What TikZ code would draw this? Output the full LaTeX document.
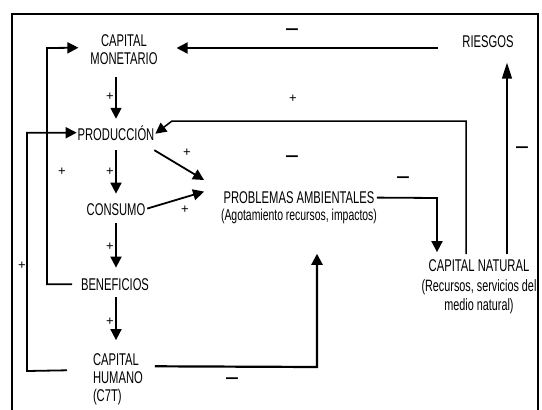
\documentclass[tikz,border=0pt]{standalone}
\usepackage{fontspec}
\setmainfont{Liberation Sans}[FakeStretch=0.66]
\newfontfamily\plainsignfont{Liberation Sans}
\usetikzlibrary{arrows.meta}
\begin{document}
\begin{tikzpicture}[x=1pt,y=-1pt,
  lbl/.style={inner sep=0pt, outer sep=0pt, font=\fontsize{17}{18}\selectfont, align=center},
  plus/.style={inner sep=0pt, font=\plainsignfont\fontsize{13}{13}\selectfont},
  minus/.style={inner sep=0pt, font=\fontsize{18}{18}\bfseries},
  ln/.style={line width=1.8pt},
  arr/.style={line width=1.8pt, -{Triangle[length=11pt,width=11pt]}},
  tall/.style={line width=1.4pt, -{Triangle[length=16pt,width=10pt]}},
  frame/.style={line width=1.3pt}]
\useasboundingbox (0,0) rectangle (542,410);
\fill[white] (0,0) rectangle (542,410);
\draw[frame] (12,415) -- (12,14) -- (538,14) -- (538,415);

% nodes
\node[lbl, anchor=north] (cm) at (124,34.6) {CAPITAL\\MONETARIO};
\node[lbl, anchor=base] (prod) at (116,140) {PRODUCCIÓN};
\node[lbl, anchor=base] (cons) at (116,215) {CONSUMO};
\node[lbl, anchor=base] (ben) at (115,290) {BENEFICIOS};
\node[lbl, anchor=north west, align=left] (ch) at (93,353.6) {CAPITAL\\HUMANO\\(C7T)};
\node[lbl, anchor=base] (ries) at (488,47) {RIESGOS};
\node[lbl, anchor=north] (prob) at (299,191.6) {PROBLEMAS AMBIENTALES\\[-1pt]{\fontsize{15.8}{17}\selectfont (Agotamiento recursos, impactos)}};
\node[lbl, anchor=north] (cn) at (479,259.6) {CAPITAL NATURAL\\[2pt]{\fontsize{16.4}{20}\selectfont (Recursos, servicios del}\\[1pt]{\fontsize{16.4}{20}\selectfont medio natural)}};

% column arrows
\draw[arr, shorten <=12pt, shorten >=6.5pt] (cm.south -| prod.north) -- (prod.north);
\draw[arr, shorten <=10pt, shorten >=9.5pt] (prod.south) -- (cons.north -| prod.south);
\draw[arr, shorten <=8pt, shorten >=10.5pt] (cons.south) -- (ben.north -| cons.south);
\draw[arr, shorten <=7pt, shorten >=13.5pt] (ben.south -| cons.south) -- (ch.north -| cons.south);

% diagonals to problemas
\draw[arr] ([yshift=-10pt]prod.south east) -- ([xshift=-17pt,yshift=11.6pt]prob.north west);
\draw[arr, shorten <=2pt] (cons.east) -- ([xshift=-17pt]prob.north west);

% left loops
\draw[arr, shorten <=9pt, shorten >=12pt] (ben.west) -- (ben.west -| 47,0) -- (47,48) -- ([yshift=2pt]cm.west);
\draw[arr, shorten >=1pt] ([xshift=-26pt,yshift=9pt]ch.west) -- (27,371) -- (prod.west -| 27,0) -- (prod.west);

% riesgos -> capital monetario
\draw[arr, shorten <=24.5pt, shorten >=19pt] (ries.west |- 0,48) -- (cm.east |- 0,48);

% problemas -> capital natural
\draw[arr, shorten >=7.5pt] ([yshift=-6pt]prob.north east) -- (437,198) -- (cn.north -| 437,0);

% capital natural -> produccion
\draw[arr, line width=1.5pt, shorten <=5.5pt] (cn.north -| 466,0) -- (466,121) -- (172,121) -- ([xshift=1pt,yshift=-1pt]prod.east);

% capital natural -> riesgos
\draw[tall, shorten <=5.5pt, shorten >=15.5pt] (cn.north -| 507,0) -- (ries.south -| 507,0);

% capital humano -> problemas
\draw[arr, line width=2.2pt, shorten >=30pt] ([xshift=12pt,yshift=13pt]ch.east) -- (317,367) -- (prob.south -| 317,0);

% signs
\node[minus] (m1) at (292,32) {—};
\node[plus] (p1) at (293,99) {+};
\node[minus] (m2) at (292,159) {—};
\node[minus] (m3) at (403,180) {—};
\node[minus] (m4) at (522,150) {—};
\node[minus] (m5) at (232,381) {—};
\node[plus] (p2) at (110,97) {+};
\node[plus] (p3) at (110,172) {+};
\node[plus] (p4) at (62,172) {+};
\node[plus] (p5) at (110,247) {+};
\node[plus] (p6) at (110,322) {+};
\node[plus] (p7) at (22,266) {+};
\node[plus] (p8) at (187,153) {+};
\node[plus] (p9) at (185,210) {+};
\end{tikzpicture}
\end{document}
